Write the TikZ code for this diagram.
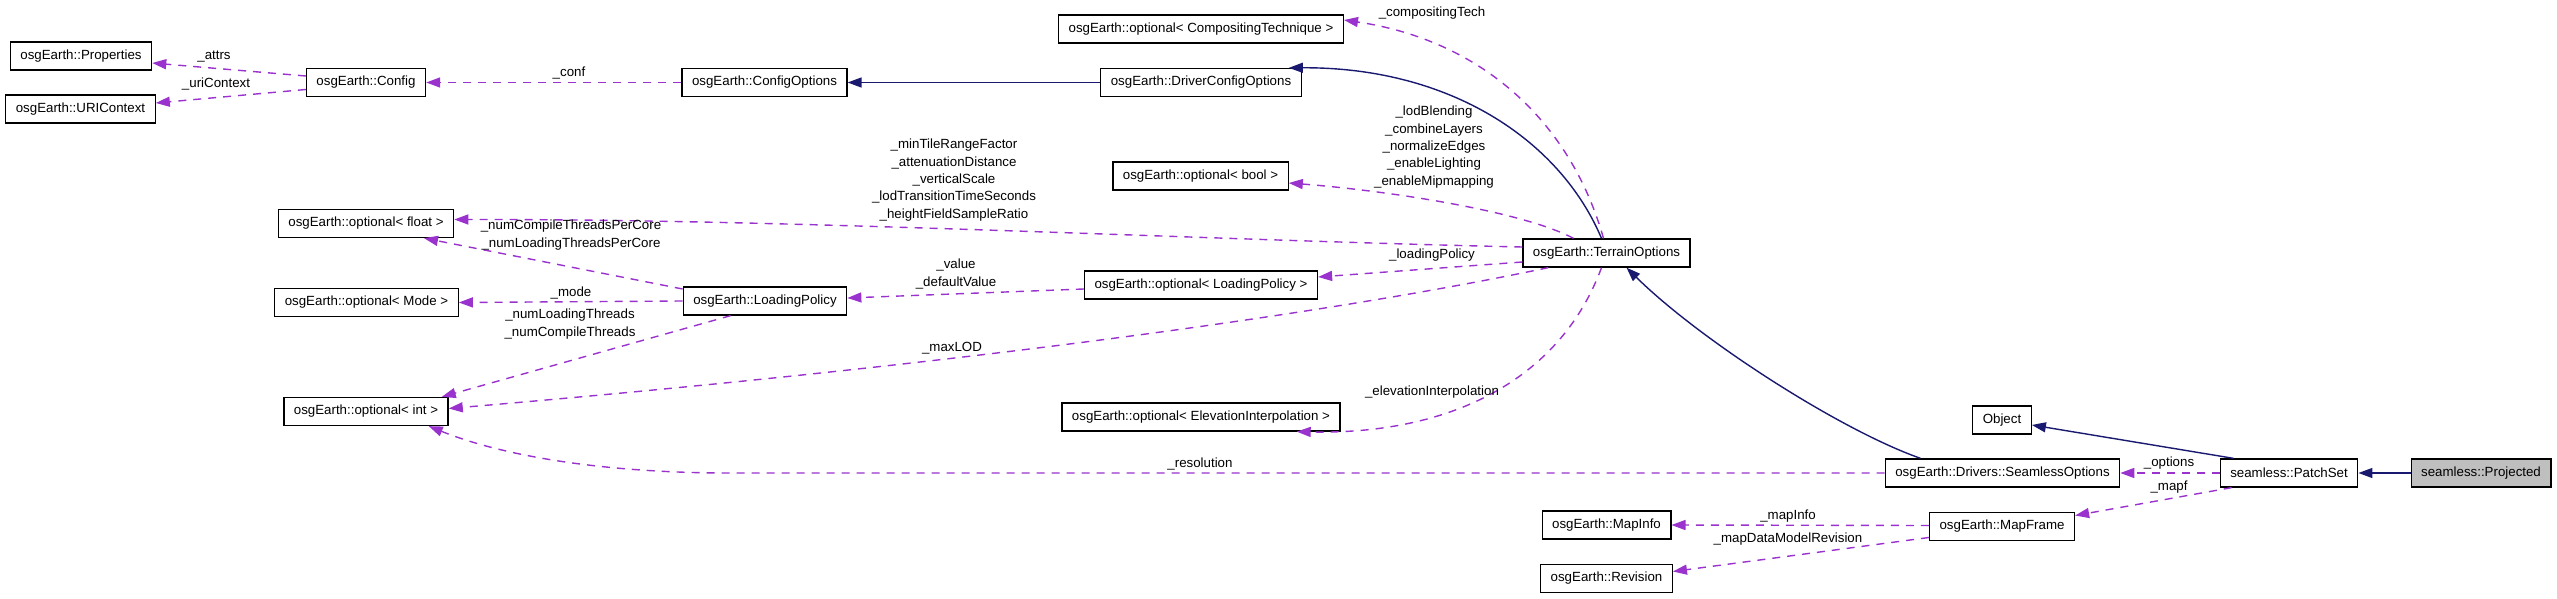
\documentclass[tikz,border=0pt]{standalone}
\usepackage{fontspec}
\setmainfont{Liberation Sans}
\usetikzlibrary{arrows.meta,calc}

\definecolor{usespurple}{HTML}{9A32CD}
\definecolor{basenavy}{HTML}{191970}
\definecolor{curgray}{HTML}{BFBFBF}

\tikzset{
		cls/.style={draw=black,line width=1.3pt,fill=white,minimum height=28pt,inner xsep=10pt,font=\fontsize{13.3}{16}\selectfont},
		curcls/.style={cls,fill=curgray},
		usesedge/.style={draw=usespurple,line width=1.4pt,dash pattern=on 8pt off 7pt,-{Triangle[length=14pt,width=10pt]}},
		baseedge/.style={draw=basenavy,line width=1.4pt,-{Triangle[length=14pt,width=10pt]}},
		lbl/.style={font=\fontsize{13.3}{17.3}\selectfont,align=center,inner sep=0pt}
	}

\begin{document}
\begin{tikzpicture}[x=1pt,y=-1pt]
				\useasboundingbox (0,0) rectangle (2557,599);
				\node[cls] (props) at (81,56) {osgEarth::Properties};
				\node[cls] (uri) at (80.5,109) {osgEarth::URIContext};
				\node[cls] (config) at (366,82.5) {osgEarth::Config};
				\node[cls] (cfgopts) at (764.5,82.5) {osgEarth::ConfigOptions};
				\node[cls] (drvcfg) at (1201,82.5) {osgEarth::DriverConfigOptions};
				\node[cls] (comptech) at (1201,29) {osgEarth::optional< CompositingTechnique >};
				\node[cls] (optbool) at (1200.5,176) {osgEarth::optional< bool >};
				\node[cls] (optfloat) at (366,223.5) {osgEarth::optional< float >};
				\node[cls] (optmode) at (366.5,302.5) {osgEarth::optional< Mode >};
				\node[cls] (optint) at (366,411.5) {osgEarth::optional< int >};
				\node[cls] (loadpol) at (765,301) {osgEarth::LoadingPolicy};
				\node[cls] (optlp) at (1201,285) {osgEarth::optional< LoadingPolicy >};
				\node[cls] (optelev) at (1201,417) {osgEarth::optional< ElevationInterpolation >};
				\node[cls] (terrain) at (1606.5,253) {osgEarth::TerrainOptions};
				\node[cls] (seamopts) at (2002.5,473) {osgEarth::Drivers::SeamlessOptions};
				\node[cls] (mapinfo) at (1606.5,525) {osgEarth::MapInfo};
				\node[cls] (revision) at (1606.5,578.5) {osgEarth::Revision};
				\node[cls] (mapframe) at (2002,526.5) {osgEarth::MapFrame};
				\node[cls] (object) at (2002,420) {Object};
				\node[cls] (patchset) at (2289,473) {seamless::PatchSet};
				\node[curcls] (projected) at (2481,473) {seamless::Projected};

				\draw[usesedge] ($(config.west)+(0,-6.5)$) -- ($(props.east)+(0,7)$) node[lbl] at (214,57) {\_attrs};
				\draw[usesedge] ($(config.west)+(0,7)$) -- ($(uri.east)+(0,-6)$) node[lbl] at (216,84) {\_uriContext};
				\draw[usesedge] (cfgopts.west) -- (config.east) node[lbl] at (569,73) {\_conf};
				\draw[baseedge] (drvcfg.west) -- (cfgopts.east);
				\draw[baseedge] ($(terrain.north)+(-5,0)$) .. controls (1560,140) and (1450,67) .. ($(drvcfg.north east)+(-13,0)$);
				\draw[usesedge] ($(terrain.north)+(-3,0)$) .. controls (1570,120) and (1480,40) .. ($(comptech.east)+(0,-9)$) node[lbl] at (1432,13) {\_compositingTech};
				\draw[usesedge] ($(terrain.north)+(-33,0)$) .. controls (1520,210) and (1380,190) .. ($(optbool.east)+(0,7)$) node[lbl] at (1434,147) {\_lodBlending\\\_combineLayers\\\_normalizeEdges\\\_enableLighting\\\_enableMipmapping};
				\draw[usesedge] ($(terrain.west)+(0,-6)$) .. controls (1200,240) and (800,219) .. ($(optfloat.east)+(0,-4)$) node[lbl] at (954,180) {\_minTileRangeFactor\\\_attenuationDistance\\\_verticalScale\\\_lodTransitionTimeSeconds\\\_heightFieldSampleRatio};
				\draw[usesedge] ($(terrain.west)+(0,9)$) -- ($(optlp.east)+(0,-8)$) node[lbl] at (1432,255) {\_loadingPolicy};
				\draw[usesedge] ($(terrain.south west)+(26,0)$) .. controls (1300,320) and (900,370) .. ($(optint.east)+(0,-3)$) node[lbl] at (952,348) {\_maxLOD};
				\draw[usesedge] ($(terrain.south)+(-5,0)$) .. controls (1560,380) and (1450,435) .. ($(optelev.south east)+(-44,0)$) node[lbl] at (1432,392) {\_elevationInterpolation};
				\draw[baseedge] ($(seamopts.north)+(-82,0)$) .. controls (1840,430) and (1700,340) .. ($(terrain.south)+(20,0)$);
				\draw[usesedge] (seamopts.west) -- (730,473) .. controls (600,473) and (500,455) .. ($(optint.south east)+(-20,0)$) node[lbl] at (1200,464) {\_resolution};
				\draw[usesedge] ($(loadpol.west)+(0,-12)$) -- ($(optfloat.south)+(58,0)$) node[lbl] at (571,235) {\_numCompileThreadsPerCore\\\_numLoadingThreadsPerCore};
				\draw[usesedge] (loadpol.west) -- (optmode.east) node[lbl] at (571,293) {\_mode};
				\draw[usesedge] ($(loadpol.south west)+(48,0)$) -- ($(optint.north east)+(-7,0)$) node[lbl] at (570,324) {\_numLoadingThreads\\\_numCompileThreads};
				\draw[usesedge] ($(optlp.west)+(0,4)$) -- ($(loadpol.east)+(0,-3)$) node[lbl] at (956,274) {\_value\\\_defaultValue};
				\draw[usesedge] ($(mapframe.west)+(0,-1)$) -- (mapinfo.east) node[lbl] at (1788,516) {\_mapInfo};
				\draw[usesedge] ($(mapframe.west)+(0,11)$) -- ($(revision.east)+(0,-7)$) node[lbl] at (1788,539) {\_mapDataModelRevision};
				\draw[usesedge] (patchset.west) -- (seamopts.east) node[lbl] at (2169,463) {\_options};
				\draw[usesedge] ($(patchset.south west)+(12,0)$) -- ($(mapframe.east)+(0,-11)$) node[lbl] at (2169,487) {\_mapf};
				\draw[baseedge] ($(patchset.north west)+(14,0)$) -- ($(object.east)+(0,5)$);
				\draw[baseedge] (projected.west) -- (patchset.east);
			\end{tikzpicture}
\end{document}
